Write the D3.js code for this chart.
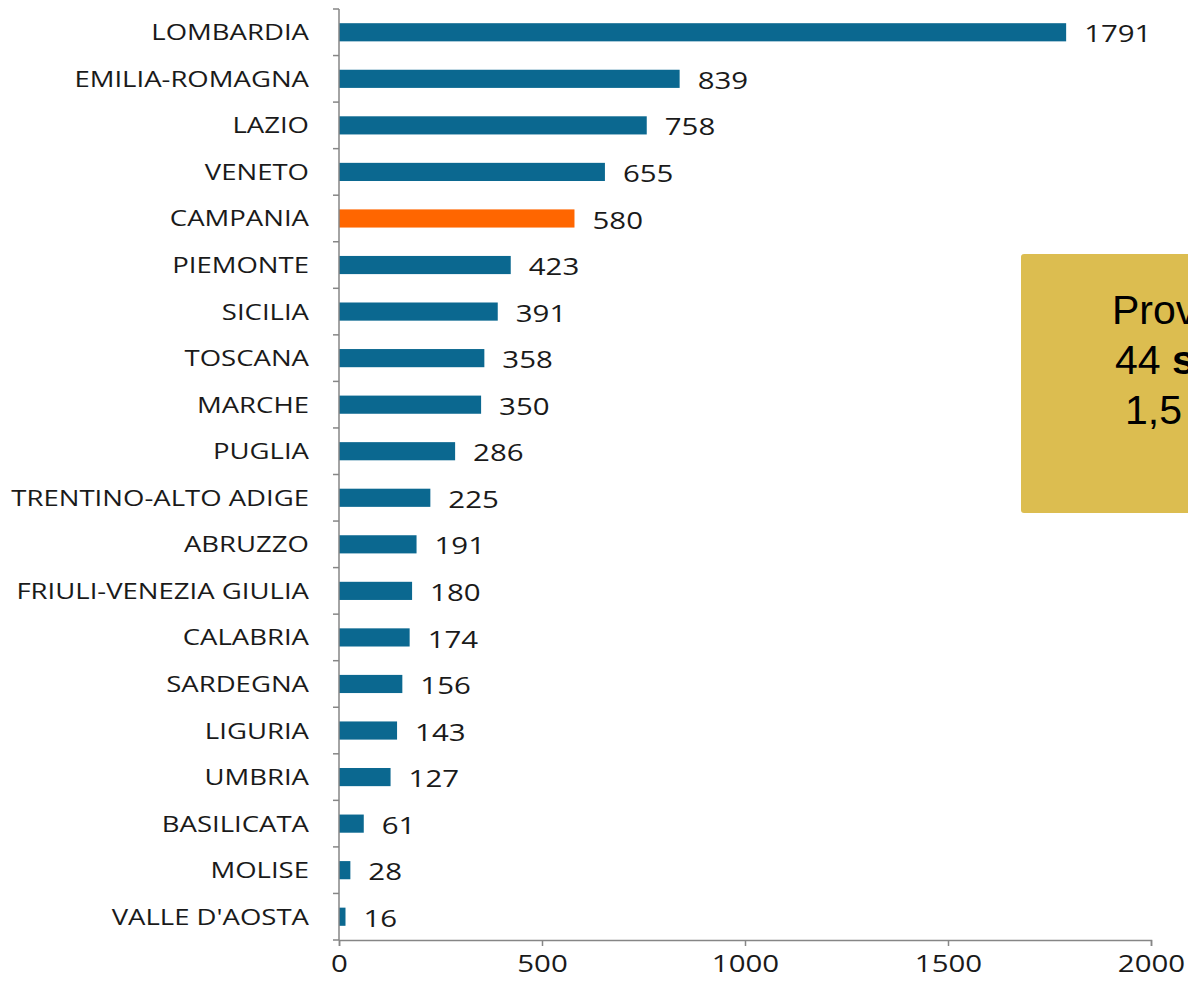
<!DOCTYPE html>
<html>
<head>
<meta charset="utf-8">
<script src="https://cdn.jsdelivr.net/npm/d3@7"></script>
<style>
  body { margin: 0; background: #fff; overflow: hidden; }
  .cat { font-family: "Open Sans", sans-serif; font-size: 21px; fill: #1a1a1a; }
  .val { font-family: "Open Sans", sans-serif; font-size: 23px; fill: #1a1a1a; }
  .tick text { font-family: "Open Sans", sans-serif; font-size: 23px; fill: #1a1a1a; }
  .box text { font-family: "Liberation Sans", Arial, sans-serif; font-size: 41px; fill: #000; }
</style>
</head>
<body>
<div id="chart"></div>
<script>
var regions = ["LOMBARDIA", "EMILIA-ROMAGNA", "LAZIO", "VENETO", "CAMPANIA", "PIEMONTE",
    "SICILIA", "TOSCANA", "MARCHE", "PUGLIA", "TRENTINO-ALTO ADIGE", "ABRUZZO",
    "FRIULI-VENEZIA GIULIA", "CALABRIA", "SARDEGNA", "LIGURIA", "UMBRIA",
    "BASILICATA", "MOLISE", "VALLE D'AOSTA"];
var counts = [1791, 839, 758, 655, 580, 423, 391, 358, 350, 286, 225, 191, 180, 174, 156, 143, 127, 61, 28, 16];
var highlight = "CAMPANIA";
var xTicks = [0, 500, 1000, 1500, 2000];

var data = regions.map(function(r, i) { return {region: r, value: counts[i]}; });

var width = 1188, height = 987;
var stretch = 1.28; // the source picture is a bit wider than tall
var catStretch = 1.31;
var svg = d3.select("#chart").append("svg")
    .attr("width", width)
    .attr("height", height);

var xScale = d3.scaleLinear().domain([0, 2000]).range([339, 1151]);
var yScale = d3.scaleBand().domain(regions).range([9, 940]).paddingInner(0.61).paddingOuter(0.305);

// bars
svg.selectAll("rect.bar")
    .data(data)
    .enter()
    .append("rect")
    .attr("class", "bar")
    .attr("x", xScale(0))
    .attr("y", function(d) { return yScale(d.region); })
    .attr("width", function(d) { return xScale(d.value) - xScale(0); })
    .attr("height", yScale.bandwidth())
    .attr("fill", function(d) { return d.region === highlight ? "#ff6600" : "#0b6890"; });

// value labels
svg.selectAll("text.val")
    .data(data)
    .enter()
    .append("text")
    .attr("class", "val")
    .attr("transform", function(d) {
        return "translate(" + (xScale(d.value) + 18) + "," + (yScale(d.region) + yScale.bandwidth() / 2) + ") scale(" + stretch + ",1)";
    })
    .attr("dy", "0.44em")
    .text(function(d) { return d.value; });

// x axis
var xAxis = svg.append("g")
    .attr("transform", "translate(0, 940)")
    .call(d3.axisBottom(xScale).tickValues(xTicks).tickFormat(d3.format("d")).tickSize(6).tickPadding(10));
xAxis.select(".domain").attr("stroke", "#868686").attr("stroke-width", 1.5);
xAxis.selectAll(".tick line").attr("stroke", "#868686").attr("stroke-width", 1.5);
xAxis.selectAll(".tick text").attr("transform", "scale(" + stretch + ",1)")
    .attr("x", 0);

// y axis: line with ticks between categories
var step = yScale.step();
var yAxis = svg.append("g");
yAxis.append("line")
    .attr("x1", 339).attr("x2", 339)
    .attr("y1", 9).attr("y2", 940)
    .attr("stroke", "#868686").attr("stroke-width", 1.5);
yAxis.selectAll("line.yt")
    .data(d3.range(regions.length + 1))
    .enter()
    .append("line")
    .attr("class", "yt")
    .attr("x1", 333).attr("x2", 339)
    .attr("y1", function(i) { return 9 + i * step; })
    .attr("y2", function(i) { return 9 + i * step; })
    .attr("stroke", "#868686").attr("stroke-width", 1.5);

svg.selectAll("text.cat")
    .data(data)
    .enter()
    .append("text")
    .attr("class", "cat")
    .attr("transform", function(d) {
        return "translate(309," + (yScale(d.region) + yScale.bandwidth() / 2) + ") scale(" + catStretch + ",1)";
    })
    .attr("dy", "0.38em")
    .attr("text-anchor", "end")
    .text(function(d) { return d.region; });

// callout box (clipped by the window edge)
var box = svg.append("g").attr("class", "box");
box.append("rect")
    .attr("x", 1021).attr("y", 254)
    .attr("width", 400).attr("height", 259)
    .attr("rx", 3)
    .attr("fill", "#dcbd50");
box.append("text").attr("x", 1112).attr("y", 324).text("Provincia di Napoli");
var t2 = box.append("text").attr("x", 1115).attr("y", 374);
t2.append("tspan").text("44 ");
t2.append("tspan").attr("font-weight", "bold").text("siti");
box.append("text").attr("x", 1125).attr("y", 424).text("1,5 milioni");
</script>
</body>
</html>
